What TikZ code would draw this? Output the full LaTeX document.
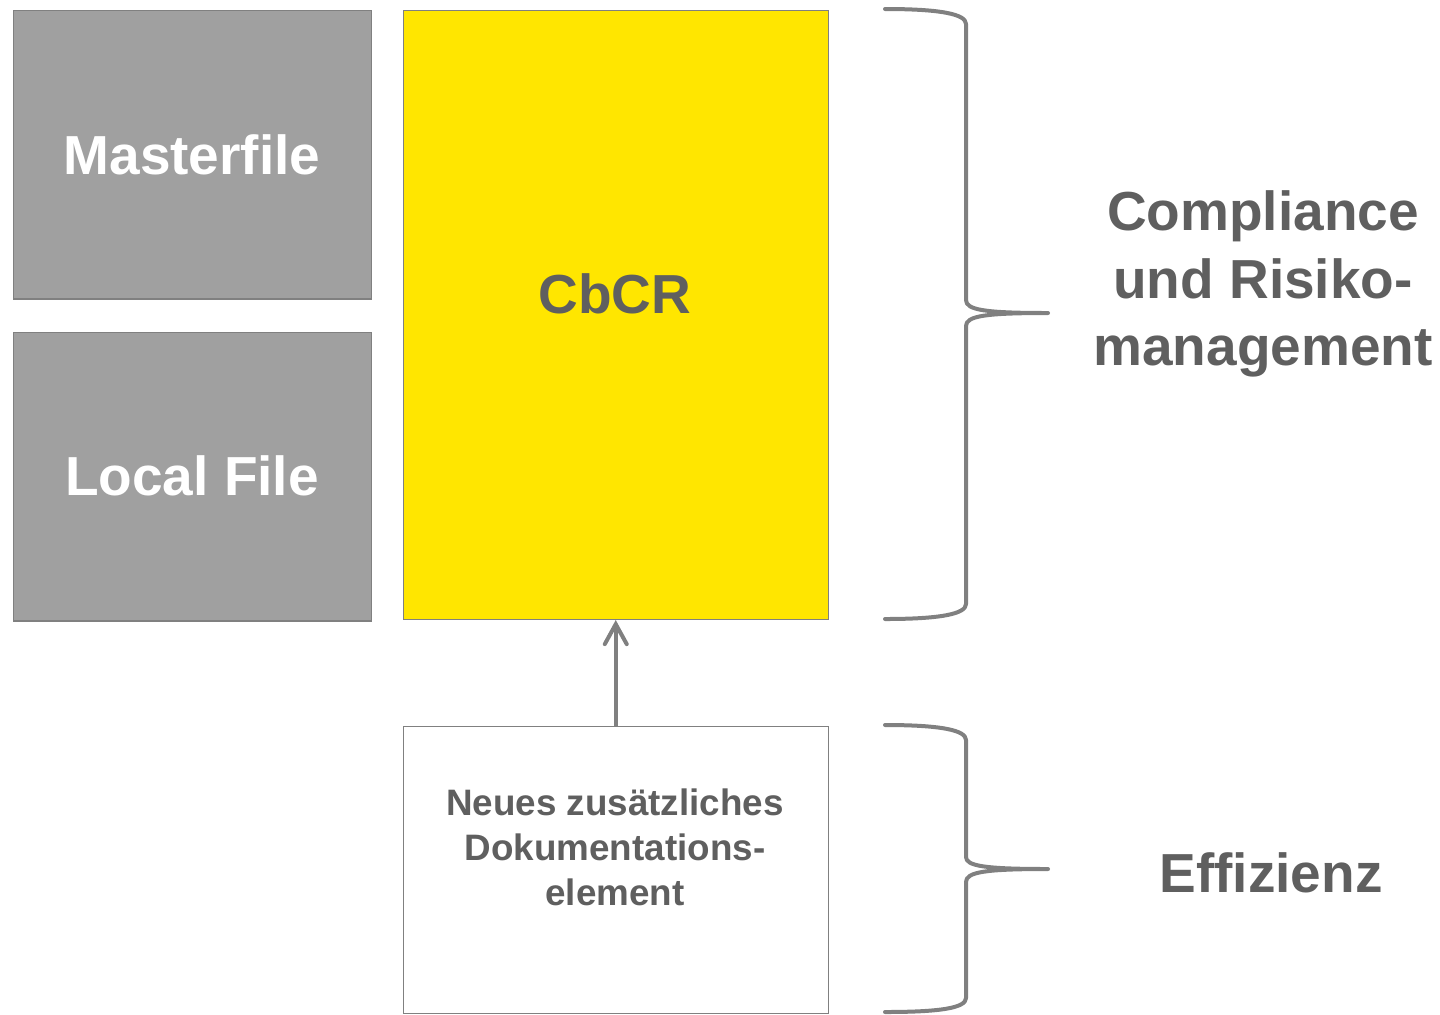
\documentclass[tikz,border=0pt]{standalone}
\usepackage{fontspec}
\setmainfont{Liberation Sans}
\usetikzlibrary{arrows.meta}
\definecolor{boxgray}{HTML}{A0A0A0}
\definecolor{edgegray}{HTML}{808080}
\definecolor{textgray}{HTML}{5F5F5F}
\definecolor{cbcryellow}{HTML}{FFE600}
\begin{document}
\begin{tikzpicture}[x=0.5pt,y=-0.5pt,
  panel/.style={draw=edgegray,line width=0.75pt,minimum width=179pt,inner sep=0pt,anchor=north west},
  grayfile/.style={panel,fill=boxgray,minimum height=144.25pt},
  whitetext/.style={text=white,font=\bfseries\fontsize{27.5}{33}\selectfont},
  bigtext/.style={text=textgray,font=\bfseries\fontsize{27.5}{33.75}\selectfont,align=center},
  smalltext/.style={text=textgray,font=\bfseries\fontsize{18.4}{22.5}\selectfont,align=center},
  bracket/.style={draw=edgegray,line width=2pt,line cap=round,line join=round}]
  \useasboundingbox (0,0) rectangle (1440,1014);

  % left column: the two gray file boxes
  \node[grayfile] (master) at (12.5,9.5) {};
  \node[whitetext] (mastertxt) at (192,155) {Masterfile};
  \node[grayfile] (local) at (12.5,331.5) {};
  \node[whitetext] (localtxt) at (192,476) {Local File};

  % CbCR block
  \node[panel,fill=cbcryellow,minimum width=212.5pt,minimum height=304.5pt] (cbcr) at (402.5,9.5) {};
  \node[bigtext] (cbcrtxt) at (615,294) {CbCR};

  % new documentation element
  \node[panel,fill=white,minimum width=212.5pt,minimum height=143.5pt] (neu) at (402.5,725.5) {};
  \node[smalltext] (neutxt) at (615,847) {Neues zusätzliches\\Dokumentations-\\element};

  \draw[edgegray,line width=2pt,-{Straight Barb[length=10pt,width=11pt,line cap=round]}]
    (neu.north) -- (cbcr.south);

  % braces
  \draw[bracket] (885,9) .. controls (940,9) and (966,14) .. (966,24) -- (966,300)
    .. controls (966,310) and (985,313) .. (1048,313)
    .. controls (985,313) and (966,316) .. (966,326) -- (966,604)
    .. controls (966,614) and (940,619) .. (885,619);
  \draw[bracket] (885,725) .. controls (940,725) and (966,730) .. (966,740) -- (966,857)
    .. controls (966,866) and (985,869) .. (1048,869)
    .. controls (985,869) and (966,872) .. (966,882) -- (966,998)
    .. controls (966,1008) and (940,1012) .. (885,1012);

  % labels
  \node[bigtext] (risk) at (1263,284) {Compliance\\und Risiko-\\management};
  \node[bigtext] (eff) at (1271,873) {Effizienz};
\end{tikzpicture}
\end{document}
